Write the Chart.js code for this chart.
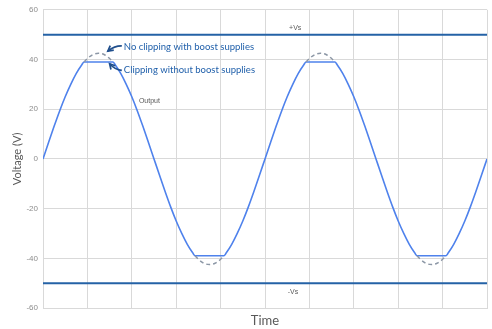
<!DOCTYPE html>
<html><head><meta charset="utf-8">
<script src="https://cdn.jsdelivr.net/npm/chart.js@4/dist/chart.umd.min.js"></script>
<style>html,body{margin:0;padding:0;background:#fff}#wrap{width:492px;height:329px}</style>
</head><body><div id="wrap"><canvas id="c" width="492" height="329"></canvas></div>
<script>
// Output (clipped) waveform
const outTime = [0,0.125,0.25,0.375,0.5,0.625,0.75,0.875,0.925,1.575,1.625,1.75,1.875,2,2.125,2.25,2.375,2.5,2.625,2.75,2.875,3,3.125,3.25,3.375,3.425,4.075,4.125,4.25,4.375,4.5,4.625,4.75,4.875,5,5.125,5.25,5.375,5.5,5.625,5.75,5.875,5.925,6.575,6.625,6.75,6.875,7,7.125,7.25,7.375,7.5,7.625,7.75,7.875,8,8.125,8.25,8.375,8.425,9.075,9.125,9.25,9.375,9.5,9.625,9.75,9.875,10];
const outVolts = [0,6.6,13.1,19.3,25.0,30.0,34.4,37.9,39,39,37.9,34.4,30.0,25.0,19.3,13.1,6.6,0,-6.6,-13.1,-19.3,-25.0,-30.0,-34.4,-37.9,-39,-39,-37.9,-34.4,-30.0,-25.0,-19.3,-13.1,-6.6,0,6.6,13.1,19.3,25.0,30.0,34.4,37.9,39,39,37.9,34.4,30.0,25.0,19.3,13.1,6.6,0,-6.6,-13.1,-19.3,-25.0,-30.0,-34.4,-37.9,-39,-39,-37.9,-34.4,-30.0,-25.0,-19.3,-13.1,-6.6,0];
// Unclipped peaks (boost supplies), dashed
const boostTime = [0.925,1.0,1.125,1.25,1.375,1.5,1.575,null,3.425,3.5,3.625,3.75,3.875,4.0,4.075,null,5.925,6.0,6.125,6.25,6.375,6.5,6.575,null,8.425,8.5,8.625,8.75,8.875,9.0,9.075];
const boostVolts = [39,40.4,42.0,42.5,42.0,40.4,39,null,-39,-40.4,-42.0,-42.5,-42.0,-40.4,-39,null,39,40.4,42.0,42.5,42.0,40.4,39,null,-39,-40.4,-42.0,-42.5,-42.0,-40.4,-39];
// Supply rails
const railTime = [0,10];
const plusVs = [50,50];
const minusVs = [-50,-50];
const yTicks = [-60,-40,-20,0,20,40,60];

function pts(xs, ys){ return xs.map((x,i)=> x===null ? {x:NaN,y:null} : {x:x,y:ys[i]}); }

const annot = {
  id:'annot',
  afterDatasetsDraw(chart){
    const ctx = chart.ctx, xs = chart.scales.x, ys = chart.scales.y;
    const X = v=>xs.getPixelForValue(v), Y = v=>ys.getPixelForValue(v);
    ctx.save();
    ctx.fillStyle = '#595959';
    ctx.font = '7px "Liberation Sans", Arial, sans-serif';
    ctx.textBaseline = 'middle';
    ctx.textAlign = 'center';
    ctx.fillText('+Vs', X(5.68), Y(52.6));
    ctx.fillText('-Vs', X(5.63), Y(-53.5));
    ctx.textAlign = 'left';
    ctx.fillText('Output', X(2.16), Y(23.3));
    ctx.fillStyle = '#1F5FAA';
    ctx.font = '9.5px Lato, "Open Sans", sans-serif';
    ctx.fillText('No clipping with boost supplies', X(1.82), Y(45.1));
    ctx.fillText('Clipping without boost supplies', X(1.82), Y(35.8));
    ctx.strokeStyle = '#1F4E8C';
    ctx.lineWidth = 1.7;
    function arrow(x0,y0,cx,cy,x1,y1){
      ctx.beginPath(); ctx.moveTo(x0,y0); ctx.quadraticCurveTo(cx,cy,x1,y1); ctx.stroke();
      const a = Math.atan2(y1-cy, x1-cx), L=6;
      ctx.beginPath();
      ctx.moveTo(x1 - L*Math.cos(a-0.5), y1 - L*Math.sin(a-0.5));
      ctx.lineTo(x1,y1);
      ctx.lineTo(x1 - L*Math.cos(a+0.5), y1 - L*Math.sin(a+0.5));
      ctx.stroke();
    }
    arrow(X(1.775),Y(45.5), X(1.62),Y(45.6), X(1.46),Y(43.4));
    arrow(X(1.775),Y(35.6), X(1.62),Y(35.9), X(1.50),Y(38.3));
    ctx.restore();
  }
};

new Chart(document.getElementById('c'), {
  type:'line',
  data:{ datasets:[
    {label:'+Vs', data:pts(railTime,plusVs), borderColor:'#2462A6', borderWidth:2, pointRadius:0, tension:0},
    {label:'-Vs', data:pts(railTime,minusVs), borderColor:'#2462A6', borderWidth:2, pointRadius:0, tension:0},
    {label:'Boost', data:pts(boostTime,boostVolts), borderColor:'#8C97A6', borderWidth:1.5, borderDash:[4,3], pointRadius:0, cubicInterpolationMode:'monotone', spanGaps:false},
    {label:'Output', data:pts(outTime,outVolts), borderColor:'#4F82EC', borderWidth:1.6, pointRadius:0, cubicInterpolationMode:'monotone'}
  ]},
  options:{
    responsive:false, animation:false, devicePixelRatio:1,
    layout:{padding:{top:4,right:5,left:0,bottom:0}},
    plugins:{legend:{display:false}, tooltip:{enabled:false}},
    scales:{
      x:{type:'linear', min:0, max:10,
        ticks:{stepSize:1, display:false},
        grid:{color:'#d9d9d9', lineWidth:1, drawTicks:false},
        border:{color:'#d9d9d9'},
        title:{display:true, text:'Time', color:'#595959', font:{family:'Lato, "Open Sans", sans-serif', size:13}, padding:{top:0,bottom:0}},
        afterFit(s){ s.height = 21; }
      },
      y:{min:-60, max:60,
        afterBuildTicks(s){ s.ticks = yTicks.map(v=>({value:v})); },
        ticks:{color:'#8c8c8c', font:{family:'"Liberation Sans", Arial, sans-serif', size:8}, padding:5},
        grid:{color:'#d9d9d9', lineWidth:1, drawTicks:false},
        border:{color:'#d9d9d9'},
        title:{display:true, text:'Voltage (V)', color:'#595959', font:{family:'Lato, "Open Sans", sans-serif', size:11}, padding:{top:11,bottom:0}},
        afterFit(s){ s.width = 43; }
      }
    }
  },
  plugins:[annot]
});
</script></body></html>
